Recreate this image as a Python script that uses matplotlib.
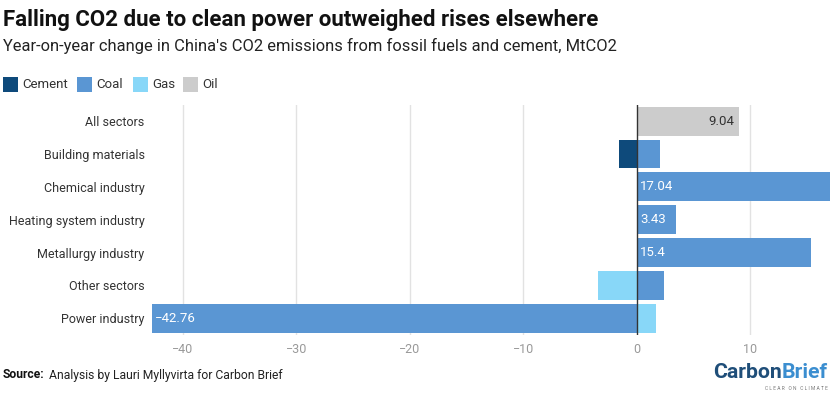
import numpy as np
import matplotlib.pyplot as plt
from matplotlib.patches import Rectangle

#------------------------------------------------------------------------------
# data (MtCO2)
categories=['All sectors',
            'Building materials',
            'Chemical industry',
            'Heating system industry',
            'Metallurgy industry',
            'Other sectors',
            'Power industry']

cement=[0,-1.56,0,0,0,0,0]
coal=[0,2.09,17.04,3.43,15.4,2.38,-42.76]
gas=[0,0,0,0,0,-3.38,1.74]
oil=[9.04,0,0,0,0,0,0]

series_names=['Cement','Coal','Gas','Oil']
x_ticks=[-40,-30,-20,-10,0,10]

#------------------------------------------------------------------------------
colors={'Cement':'#0e4a7b','Coal':'#5a96d3','Gas':'#88d7f8','Oil':'#cccccc'}
label_colors={'Cement':'white','Coal':'white','Gas':'#333333','Oil':'#333333'}

font=['Roboto','DejaVu Sans']

W,H=838,394
fig=plt.figure(figsize=(W/100,H/100),dpi=100)
renderer=fig.canvas.get_renderer()

def fit_width(texts,target_w):
    #scale fontsize of a group of texts so that together they span target_w
    total=sum(t.get_window_extent(renderer=renderer).width for t in texts)
    for t in texts:
        t.set_fontsize(t.get_fontsize()*target_w/total)

#plot area in pixels
left_px,right_px,top_px,bottom_px=151.5,830,105,335
ax=fig.add_axes([left_px/W,1-bottom_px/H,(right_px-left_px)/W,(bottom_px-top_px)/H])

y=np.arange(len(categories))
bar_h=0.88

#gridlines
for t in x_ticks:
    if t==0:
        continue
    ax.axvline(t,color='#e2e2e2',lw=1,zorder=0)

all_series={'Cement':cement,'Coal':coal,'Gas':gas,'Oil':oil}

#diverging stack: positives go right from 0, negatives go left
pos_base=np.zeros(len(categories))
neg_base=np.zeros(len(categories))

for name in series_names:
    vals=np.array(all_series[name],dtype=float)
    lefts=np.where(vals>=0,pos_base,neg_base+vals)
    ax.barh(y,np.abs(vals),left=lefts,height=bar_h,
            color=colors[name],edgecolor='none',zorder=2)

    #value labels on wide enough segments
    for i,v in enumerate(vals):
        if abs(v)<3.4:
            continue
        txt=('%g'%v).replace('-','\u2212')
        if name=='Oil':
            ax.text(lefts[i]+abs(v)-0.4,y[i],txt,ha='right',va='center',
                    color=label_colors[name],fontsize=9.5,family=font,zorder=4)
        else:
            ax.text(lefts[i]+0.3,y[i],txt,ha='left',va='center',
                    color=label_colors[name],fontsize=9.5,family=font,zorder=4)

    pos_base=pos_base+np.where(vals>0,vals,0)
    neg_base=neg_base+np.where(vals<0,vals,0)

#zero line
ax.axvline(0,color='#333333',lw=1,zorder=3)

ax.set_xlim(-42.76,17.04)
ax.set_ylim(6.51,-0.49)
ax.set_yticks(y)
ax.set_yticklabels(categories,family=font,fontsize=9,color='#333333')
ax.set_xticks(x_ticks)
ax.set_xticklabels([('%d'%t).replace('-','\u2212') for t in x_ticks],
                   family=font,fontsize=9,color='#999999')
ax.tick_params(axis='both',length=0)
ax.tick_params(axis='y',pad=5)
ax.tick_params(axis='x',pad=6)
for s in ax.spines.values():
    s.set_visible(False)

#title and subtitle
title=fig.text(3/W,1-20/H,'Falling CO2 due to clean power outweighed rises elsewhere',
               family=font,fontweight='bold',fontsize=16,color='#111111',
               ha='left',va='center')
fit_width([title],595)
subtitle=fig.text(3/W,1-46/H,"Year-on-year change in China's CO2 emissions from fossil fuels and cement, MtCO2",
                  family=font,fontsize=11,color='#222222',ha='left',va='center')
fit_width([subtitle],609)

#legend
legend_x=[3,77,133,183]
for name,lx in zip(series_names,legend_x):
    fig.patches.append(Rectangle((lx/W,1-92/H),15/W,15/H,transform=fig.transFigure,
                                 facecolor=colors[name],edgecolor='none'))
    fig.text((lx+19)/W,1-84.5/H,name,family=font,fontsize=9.5,color='#333333',
             ha='left',va='center')

#source
src=fig.text(3/W,1-375/H,'Source:',family=font,fontweight='bold',fontsize=10,
             color='#111111',ha='left',va='center')
src_body=fig.text(60/W,1-375/H,'Analysis by Lauri Myllyvirta for Carbon Brief',
                  family=font,fontsize=10,color='#222222',ha='left',va='center')
fit_width([src,src_body],276)
bb=src.get_window_extent(renderer=renderer)
src_body.set_x((bb.x1+4)/W)

#logo as text
t1=fig.text(713/W,1-372/H,'Carbon',family=font,fontweight='bold',fontsize=14,
            color='#1f4e79',ha='left',va='center')
t2=fig.text(770/W,1-372/H,'Brief',family=font,fontweight='bold',fontsize=14,
            color='#3b8ed0',ha='left',va='center')
fit_width([t1,t2],115)
bb=t1.get_window_extent(renderer=renderer)
t2.set_x(bb.x1/W)
fig.text(828/W,1-389/H,'C L E A R   O N   C L I M A T E',family=font,fontsize=3.5,
         color='#777777',ha='right',va='center')

fig.savefig('out.png',dpi=100)
